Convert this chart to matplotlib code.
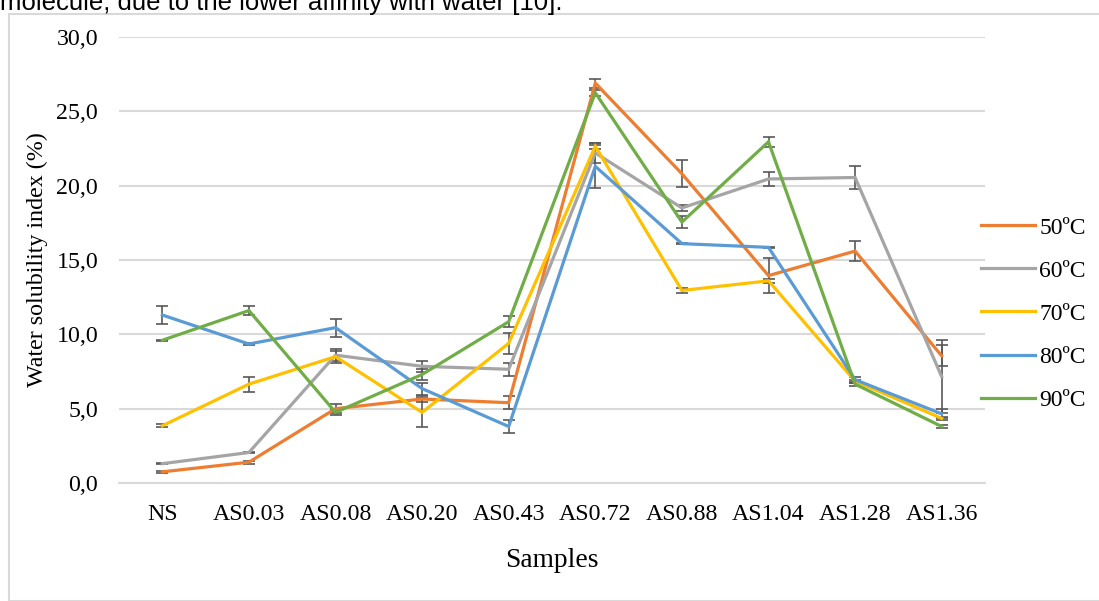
import matplotlib
matplotlib.use("Agg")
import matplotlib.pyplot as plt
from matplotlib.ticker import FuncFormatter, MultipleLocator
from matplotlib.patches import Rectangle
from matplotlib.lines import Line2D

categories = ['NS', 'AS0.03', 'AS0.08', 'AS0.20', 'AS0.43', 'AS0.72', 'AS0.88', 'AS1.04', 'AS1.28', 'AS1.36']
series_names = ['50ºC', '60ºC', '70ºC', '80ºC', '90ºC']

v50 = [0.75, 1.4, 5.0, 5.65, 5.4, 26.9, 20.8, 13.95, 15.6, 8.55]
e50 = [0.05, 0.1, 0.3, 0.2, 0.45, 0.3, 0.9, 1.2, 0.65, 0.7]
v60 = [1.3, 2.05, 8.6, 7.85, 7.65, 22.2, 18.5, 20.45, 20.55, 7.15]
e60 = [0.05, 0.05, 0.4, 0.35, 0.45, 0.7, 0.2, 0.45, 0.75, 2.45]
v70 = [3.85, 6.65, 8.5, 4.75, 9.4, 22.65, 12.95, 13.6, 6.85, 4.35]
e70 = [0.1, 0.5, 0.4, 0.95, 0.7, 0.2, 0.2, 0.15, 0.1, 0.1]
v80 = [11.3, 9.35, 10.45, 6.35, 3.8, 21.3, 16.1, 15.85, 6.95, 4.65]
e80 = [0.6, 0.05, 0.6, 0.4, 0.45, 1.45, 0.05, 0.05, 0.15, 0.3]
v90 = [9.6, 11.6, 4.75, 7.3, 10.85, 26.25, 17.55, 22.95, 6.65, 3.8]
e90 = [0.05, 0.3, 0.2, 0.4, 0.35, 0.2, 0.4, 0.35, 0.1, 0.1]

values = [v50, v60, v70, v80, v90]
errors = [e50, e60, e70, e80, e90]
colors = ['#ED7D31', '#A5A5A5', '#FFC000', '#5B9BD5', '#70AD47']

W, H = 1099, 601
fig = plt.figure(figsize=(W / 100, H / 100), dpi=100)
serif = ['Liberation Serif', 'DejaVu Serif']

# axes placement in pixels
x0, x1 = 119, 985
y_top, y_bot = 37, 483
ax = fig.add_axes([x0 / W, (H - y_bot) / H, (x1 - x0) / W, (y_bot - y_top) / H])

xs = list(range(len(categories)))
for vals, errs, col, name in zip(values, errors, colors, series_names):
    ax.plot(xs, vals, color=col, lw=2.3, solid_joinstyle='miter', zorder=3, label=name)
    ax.errorbar(xs, vals, yerr=errs, fmt='none', ecolor='#595959', elinewidth=1.2,
                capsize=4.2, capthick=1.2, zorder=2.5)

ax.set_xlim(-0.5, len(categories) - 0.5)
ax.set_ylim(0, 30)
ax.yaxis.set_major_locator(MultipleLocator(5))
ax.yaxis.set_major_formatter(FuncFormatter(lambda v, p: f"{v:.1f}".replace('.', ',')))
ax.grid(axis='y', color='#D9D9D9', lw=1.5, zorder=0)
ax.set_axisbelow(True)
for s in ['top', 'right', 'left']:
    ax.spines[s].set_visible(False)
ax.spines['bottom'].set_color('#D9D9D9')
ax.spines['bottom'].set_linewidth(1.5)
ax.set_xticks(xs)
ax.set_xticklabels(categories)
ax.tick_params(axis='both', length=0, labelsize=17.2)
ax.tick_params(axis='y', pad=15)
ax.tick_params(axis='x', pad=15)
for lab in ax.get_xticklabels() + ax.get_yticklabels():
    lab.set_family(serif)
    lab.set_color('#000000')

ax.set_xlabel('Samples', family=serif, fontsize=19.8, labelpad=17)
ax.set_ylabel('Water solubility index (%)', family=serif, fontsize=17.3, labelpad=6)

# legend
handles = [Line2D([0], [0], color=c, lw=2.3) for c in colors]
leg = fig.legend(handles, series_names, loc='center left',
                 bbox_to_anchor=(981 / W, (H - 314) / H), frameon=False,
                 prop={'family': serif, 'size': 17}, handlelength=2.29,
                 handletextpad=0.17, labelspacing=0.91, borderpad=0, borderaxespad=0)

# outer frame of the chart box
fig.patches.append(Rectangle((8.5 / W, 0), 1.2, (H - 13.5) / H, transform=fig.transFigure,
                             fill=False, edgecolor='#D9D9D9', lw=1.5))

# cut-off line of document text above
fig.text(0 / W, 1 - 10 / H, 'molecule, due to the lower affinity with water [10].',
         family=['Liberation Sans', 'DejaVu Sans'], fontsize=18.5, va='baseline', ha='left')

fig.savefig('out.png', dpi=100)
